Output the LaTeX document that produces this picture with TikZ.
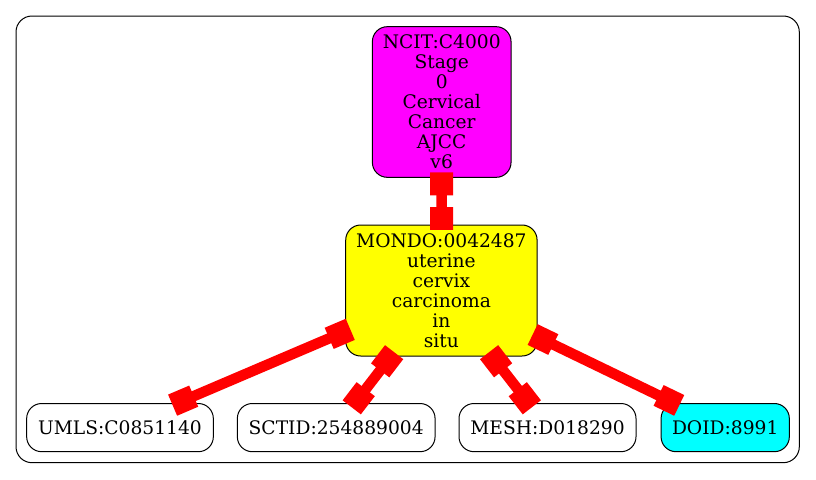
\documentclass[tikz,border=0pt]{standalone}
\usepackage{fontspec}
\setmainfont{DejaVu Serif}
\usetikzlibrary{calc}
\definecolor{edgered}{RGB}{255,0,0}
\definecolor{nmagenta}{RGB}{255,0,255}
\definecolor{nyellow}{RGB}{255,255,0}
\definecolor{ncyan}{RGB}{0,255,255}
\tikzset{
  gnode/.style={draw=black, line width=0.75pt, rounded corners=11.25pt, align=center,
    inner sep=0pt, font=\fontsize{14}{15}\selectfont},
  leafnode/.style={gnode, minimum height=36.15pt},
  edgeline/.style={draw=edgered, line width=7.9pt},
  edgebox/.style={draw=edgered, line width=17.25pt},
}
\newcommand{\gedge}[2]{%
  \draw[edgeline] (#1) -- (#2);
  \path (#1) -- (#2) coordinate[pos=0] (es) coordinate[pos=1] (et);
  \draw[edgebox] ($(es)!-4.1pt!(et)$) -- ($(es)!13.1pt!(et)$);
  \draw[edgebox] ($(et)!-4.1pt!(es)$) -- ($(et)!13.1pt!(es)$);
}
\begin{document}
\begin{tikzpicture}[x=0.75pt, y=-0.75pt]
\useasboundingbox (0,0) rectangle (816,479);
\draw[line width=0.75pt, rounded corners=12pt] (16,16) rectangle (799.3,462.7);
\node[gnode, fill=nmagenta, minimum width=104pt, minimum height=113pt] (ncit) at (441.7,102)
  {NCIT:C4000\\Stage\\0\\Cervical\\Cancer\\AJCC\\v6};
\node[gnode, fill=nyellow, minimum width=143.5pt, minimum height=98.25pt] (mondo) at (441.4,290.5)
  {MONDO:0042487\\uterine\\cervix\\carcinoma\\in\\situ};
\node[leafnode, minimum width=140pt] (umls) at (120,427.6) {UMLS:C0851140};
\node[leafnode, minimum width=148.3pt] (sctid) at (336.2,427.6) {SCTID:254889004};
\node[leafnode, minimum width=132.75pt] (mesh) at (547.5,427.6) {MESH:D018290};
\node[leafnode, fill=ncyan, minimum width=96.2pt] (doid) at (725.2,427.6) {DOID:8991};
\gedge{ncit}{mondo}
\gedge{mondo}{umls}
\gedge{mondo}{sctid}
\gedge{mondo}{mesh}
\gedge{mondo}{doid}
\end{tikzpicture}
\end{document}
